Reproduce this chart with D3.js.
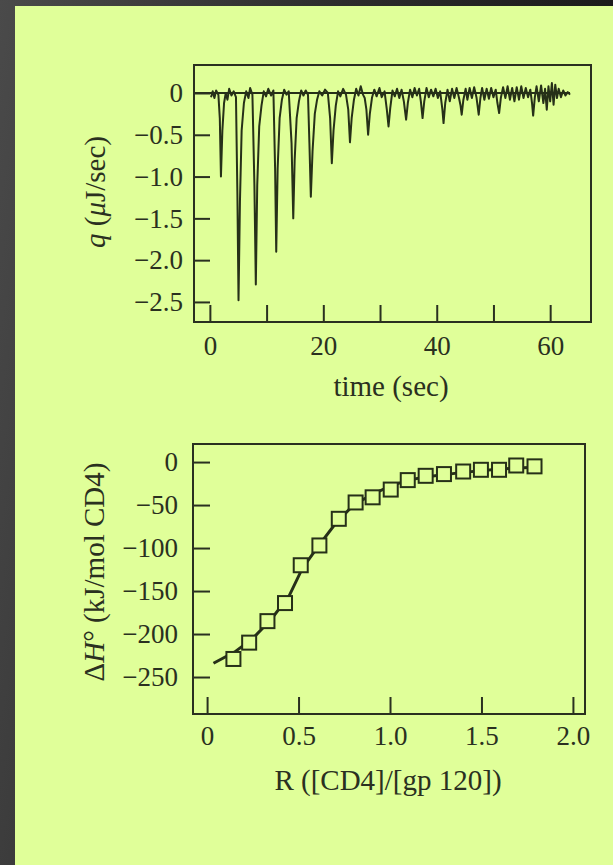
<!DOCTYPE html>
<html>
<head>
<meta charset="utf-8">
<script src="https://cdn.jsdelivr.net/npm/d3@7"></script>
<style>
  html, body { margin: 0; padding: 0; }
  body {
    width: 613px; height: 865px; overflow: hidden;
    background: linear-gradient(100deg, #4a4a4a 0%, #2c2c2c 45%, #121212 100%);
  }
  #MyGraph { position: absolute; left: 0; top: 0; }
  .axis text { font-family: "Liberation Serif", "DejaVu Serif", serif; font-size: 27px; fill: #2a3020; }
  .axis line { stroke: #2a3020; stroke-width: 2px; }
  .axis path { display: none; }
  .title { font-family: "Liberation Serif", "DejaVu Serif", serif; font-size: 29px; fill: #2a3020; }
  .frame { fill: none; stroke: #2a3020; stroke-width: 2px; }
  .trace { fill: none; stroke: #263018; stroke-width: 2px; stroke-linejoin: round; }
  .fitline { fill: none; stroke: #263018; stroke-width: 3px; }
</style>
</head>
<body>
<svg id="MyGraph" width="613" height="865"></svg>
<script>
// --- thermogram (top) ---
var timeSec = [0.2, 0.5, 0.8, 1.1, 1.5, 1.75, 1.95, 2.2, 2.5, 2.8, 3.1, 3.4, 3.8, 4.2, 4.6, 4.85, 5.05, 5.3, 5.6, 6.0,
  6.4, 6.8, 7.1, 7.5, 7.85, 8.1, 8.35, 8.7, 9.1, 9.5, 9.9, 10.3, 10.8, 11.2, 11.5, 11.7, 11.95, 12.3, 12.7, 13.1,
  13.5, 13.9, 14.4, 14.7, 14.95, 15.3, 15.7, 16.1, 16.5, 16.9, 17.3, 17.55, 17.8, 18.1, 18.5, 18.9, 19.3, 19.8, 20.3, 20.8,
  21.2, 21.5, 21.8, 22.2, 22.6, 23.0, 23.5, 24.0, 24.4, 24.7, 25.0, 25.4, 25.8, 26.2, 26.6, 27.0, 27.3, 27.6, 27.9, 28.2,
  28.6, 29.0, 29.4, 29.9, 30.3, 30.8, 31.2, 31.5, 31.8, 32.2, 32.6, 33.0, 33.4, 33.8, 34.2, 34.6, 34.9, 35.3, 35.7, 36.1,
  36.5, 36.9, 37.2, 37.5, 37.8, 38.2, 38.6, 39.0, 39.4, 39.8, 40.2, 40.6, 41.0, 41.2, 41.5, 41.9, 42.3, 42.7, 43.1, 43.5,
  43.9, 44.2, 44.4, 44.7, 45.1, 45.4, 45.8, 46.2, 46.6, 47.0, 47.2, 47.4, 47.7, 48.0, 48.4, 48.8, 49.2, 49.6, 50.0, 50.4,
  50.7, 51.0, 51.3, 51.7, 52.1, 52.5, 52.9, 53.3, 53.7, 54.1, 54.5, 54.9, 55.3, 55.7, 56.1, 56.5, 56.8, 57.0, 57.3, 57.6,
  58.0, 58.4, 58.8, 59.1, 59.4, 59.7, 60.0, 60.3, 60.6, 60.9, 61.2, 61.5, 61.9, 62.3, 62.7, 63.1, 63.5];
var heatRate = [-0.05, 0.02, -0.06, 0.03, -0.02, -0.3, -1.0, -0.45, -0.12, 0.0, -0.08, 0.05, -0.03, 0.02, -0.05, -1.2, -2.48, -1.3, -0.45, -0.12,
  0.02, -0.06, 0.06, -0.02, -1.1, -2.29, -1.1, -0.4, -0.15, 0.02, -0.04, 0.05, -0.03, 0.03, -0.9, -1.9, -0.9, -0.3, -0.08, 0.04,
  -0.02, 0.02, -0.6, -1.5, -0.8, -0.3, -0.1, 0.03, -0.03, 0.03, -0.02, -0.6, -1.24, -0.7, -0.25, -0.08, 0.02, -0.03, 0.04, 0.0,
  -0.3, -0.84, -0.45, -0.15, 0.02, -0.04, 0.05, -0.02, -0.2, -0.59, -0.3, -0.08, 0.05, -0.03, 0.08, -0.02, -0.06, -0.2, -0.5, -0.25,
  -0.05, 0.04, -0.04, 0.06, -0.05, 0.02, -0.2, -0.4, -0.18, 0.03, -0.04, 0.05, -0.06, 0.04, -0.1, -0.32, -0.12, 0.04, -0.05, 0.06,
  -0.03, 0.05, -0.1, -0.3, -0.1, 0.06, -0.05, 0.04, -0.04, 0.05, -0.06, 0.02, -0.2, -0.36, -0.12, 0.04, -0.1, 0.05, -0.06, 0.06,
  -0.05, -0.15, -0.26, -0.08, 0.05, -0.08, 0.06, -0.06, 0.07, -0.05, -0.15, -0.26, -0.06, 0.06, -0.08, 0.05, -0.07, 0.06, -0.05, 0.04,
  -0.12, -0.24, -0.06, 0.07, -0.06, 0.08, -0.08, 0.06, -0.1, 0.07, -0.08, 0.08, -0.06, 0.06, -0.05, 0.04, -0.12, -0.27, -0.05, 0.08,
  -0.1, 0.09, -0.12, 0.05, -0.2, 0.08, -0.1, 0.12, -0.14, 0.1, -0.06, 0.05, -0.05, 0.03, -0.03, 0.01, -0.02];
var baseTime = [-2.8, 63.5];
var baseHeat = [0, 0];
var timeTicks = [0, 10, 20, 30, 40, 50, 60];
var timeLabels = ["0", "", "20", "", "40", "", "60"];
var heatTicks = [0, -0.5, -1.0, -1.5, -2.0, -2.5];
var heatLabels = ["0", "\u22120.5", "\u22121.0", "\u22121.5", "\u22122.0", "\u22122.5"];

// --- binding isotherm (bottom) ---
var ratioR = [0.144, 0.23, 0.33, 0.426, 0.512, 0.614, 0.72, 0.812, 0.905, 1.004, 1.097, 1.195, 1.295, 1.40, 1.497, 1.596, 1.69, 1.79];
var enthalpy = [-229, -210, -185, -164, -120, -97, -66, -47, -41, -32, -21, -16, -14, -11, -9, -9, -4, -5];
var fitR = [0.035, 0.15, 0.25, 0.35, 0.45, 0.52, 0.6, 0.7, 0.8, 0.9, 1.0, 1.1, 1.2, 1.4, 1.6, 1.79];
var fitDH = [-234, -221, -205, -183, -155, -124, -100, -72, -50, -38, -28, -21, -17, -12, -8, -6];
var ratioTicks = [0, 0.5, 1.0, 1.5, 2.0];
var ratioLabels = ["0", "0.5", "1.0", "1.5", "2.0"];
var dhTicks = [0, -50, -100, -150, -200, -250];
var dhLabels = ["0", "\u221250", "\u2212100", "\u2212150", "\u2212200", "\u2212250"];

var svg = d3.select("#MyGraph");

// パネル背景
svg.append("rect")
    .attr("x", 15).attr("y", 6)
    .attr("width", 613 - 15).attr("height", 865 - 6)
    .attr("fill", "#e0ff99");

// ===== 上のグラフ =====
var x1 = d3.scaleLinear().domain([-2.8, 67.2]).range([194, 591]);
var y1 = d3.scaleLinear().domain([0.335, -2.74]).range([65, 322]);

var line1 = d3.line()
    .x(function(d){ return x1(d.t); })
    .y(function(d){ return y1(d.q); });

var trace = timeSec.map(function(t, i){ return {t: t, q: heatRate[i]}; });
var base = baseTime.map(function(t, i){ return {t: t, q: baseHeat[i]}; });

svg.append("path").datum(base).attr("class", "trace").attr("d", line1);
svg.append("path").datum(trace).attr("class", "trace").attr("d", line1);

// Ｙ軸
var gy1 = svg.append("g")
    .attr("class", "axis")
    .attr("transform", "translate(194,0)")
    .call(d3.axisLeft(y1).tickValues(heatTicks)
        .tickFormat(function(d, i){ return heatLabels[i]; })
        .tickSizeInner(-16).tickSizeOuter(0).tickPadding(11));

// Ｘ軸
var gx1 = svg.append("g")
    .attr("class", "axis")
    .attr("transform", "translate(0,322)")
    .call(d3.axisBottom(x1).tickValues(timeTicks)
        .tickFormat(function(d, i){ return timeLabels[i]; })
        .tickSizeInner(-17).tickSizeOuter(0));
gx1.selectAll("text").attr("y", 33).attr("dy", 0);

svg.append("rect").attr("class", "frame")
    .attr("x", 194).attr("y", 65).attr("width", 591 - 194).attr("height", 322 - 65);

svg.append("text").attr("class", "title")
    .attr("x", 391).attr("y", 396).attr("text-anchor", "middle")
    .text("time (sec)");

var t1 = svg.append("text").attr("class", "title")
    .attr("transform", "translate(105,192) rotate(-90)")
    .attr("text-anchor", "middle");
t1.append("tspan").attr("font-style", "italic").text("q");
t1.append("tspan").text(" (");
t1.append("tspan").attr("font-style", "italic").text("\u03bc");
t1.append("tspan").text("J/sec)");

// ===== 下のグラフ =====
var x2 = d3.scaleLinear().domain([-0.077, 2.066]).range([193, 585]);
var y2 = d3.scaleLinear().domain([21, -293]).range([444, 714]);

var line2 = d3.line()
    .x(function(d){ return x2(d.r); })
    .y(function(d){ return y2(d.h); });

var fit = fitR.map(function(r, i){ return {r: r, h: fitDH[i]}; });
var pts = ratioR.map(function(r, i){ return {r: r, h: enthalpy[i]}; });

svg.append("path").datum(fit).attr("class", "fitline").attr("d", line2);

svg.selectAll("rect.pt")
    .data(pts)
    .enter()
    .append("rect")
    .attr("class", "pt")
    .attr("width", 14).attr("height", 14)
    .attr("x", function(d){ return x2(d.r) - 7; })
    .attr("y", function(d){ return y2(d.h) - 7; })
    .attr("fill", "#e0ff99")
    .attr("stroke", "#263018")
    .attr("stroke-width", 2);

var gy2 = svg.append("g")
    .attr("class", "axis")
    .attr("transform", "translate(193,0)")
    .call(d3.axisLeft(y2).tickValues(dhTicks)
        .tickFormat(function(d, i){ return dhLabels[i]; })
        .tickSizeInner(-17).tickSizeOuter(0).tickPadding(15));

var gx2 = svg.append("g")
    .attr("class", "axis")
    .attr("transform", "translate(0,714)")
    .call(d3.axisBottom(x2).tickValues(ratioTicks)
        .tickFormat(function(d, i){ return ratioLabels[i]; })
        .tickSizeInner(-17).tickSizeOuter(0));
gx2.selectAll("text").attr("y", 31).attr("dy", 0);

svg.append("rect").attr("class", "frame")
    .attr("x", 193).attr("y", 444).attr("width", 585 - 193).attr("height", 714 - 444);

svg.append("text").attr("class", "title")
    .attr("x", 388).attr("y", 790).attr("text-anchor", "middle")
    .text("R ([CD4]/[gp 120])");

var t2 = svg.append("text").attr("class", "title")
    .attr("transform", "translate(104,572) rotate(-90)")
    .attr("text-anchor", "middle");
t2.append("tspan").text("\u0394");
t2.append("tspan").attr("font-style", "italic").text("H");
t2.append("tspan").text("\u00b0 (kJ/mol CD4)");
</script>
</body>
</html>
